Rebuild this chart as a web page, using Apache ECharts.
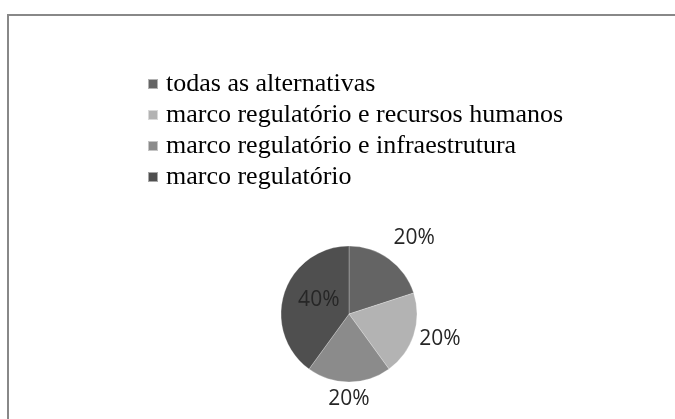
<!DOCTYPE html>
<html>
<head>
<meta charset="utf-8">
<script src="https://cdn.jsdelivr.net/npm/echarts@6/dist/echarts.min.js"></script>
<style>
  html, body { margin: 0; padding: 0; background: #fff; }
  #wrap { position: relative; width: 675px; height: 419px; overflow: hidden; }
  #frame { position: absolute; left: 7px; top: 14px; width: 700px; height: 440px;
           border-left: 2px solid #888; border-top: 2px solid #888; box-sizing: border-box; }
  #chart { position: absolute; left: 0; top: 0; width: 675px; height: 419px; }
</style>
</head>
<body>
<div id="wrap">
  <div id="frame"></div>
  <div id="chart"></div>
</div>
<script>
// categories + values (percent)
const names = ['todas as alternativas', 'marco regulatório e recursos humanos', 'marco regulatório e infraestrutura', 'marco regulatório']
const values = [20, 20, 20, 40]
const colors = ['#646464', '#b3b3b3', '#8b8b8b', '#4f4f4f']

// label placement per slice (line length / length2), last one sits inside
const labelLen = [26, 13, 17, 0]
const labelLen2 = [5, 9, -5, 0]

const chart = echarts.init(document.getElementById('chart'))

const pieData = names.map((n, i) => {
  const item = { name: n, value: values[i], itemStyle: { color: colors[i] } }
  if (i === 3) {
    item.label = { position: 'inside' }
  } else {
    item.labelLine = { show: false, length: labelLen[i], length2: labelLen2[i] }
  }
  return item
})

chart.setOption({
  animation: false,
  legend: {
    orient: 'vertical',
    left: 147,
    top: 71,
    padding: 0,
    itemWidth: 10,
    itemHeight: 10,
    itemGap: 5,
    icon: 'rect',
    selectedMode: false,
    data: names,
    textStyle: {
      fontFamily: 'Liberation Serif',
      fontSize: 26,
      lineHeight: 26,
      color: '#000',
      padding: [0, 0, 0, 3]
    }
  },
  series: [
    {
      type: 'pie',
      center: [349, 314],
      radius: 68,
      startAngle: 90,
      clockwise: true,
      avoidLabelOverlap: false,
      itemStyle: { borderColor: 'rgba(255,255,255,0.5)', borderWidth: 0.5 },
      label: {
        show: true,
        position: 'outside',
        formatter: '{d}%',
        fontFamily: 'Open Sans',
        fontSize: 21,
        color: '#262626'
      },
      labelLine: { show: false },
      // outside labels centred on their anchor; the inside one nudged a bit right/up
      labelLayout: (p) => (p.dataIndex === 3 ? { dx: 5, dy: -3 } : { align: 'center' }),
      emphasis: { disabled: true },
      data: pieData
    }
  ]
})
</script>
</body>
</html>
